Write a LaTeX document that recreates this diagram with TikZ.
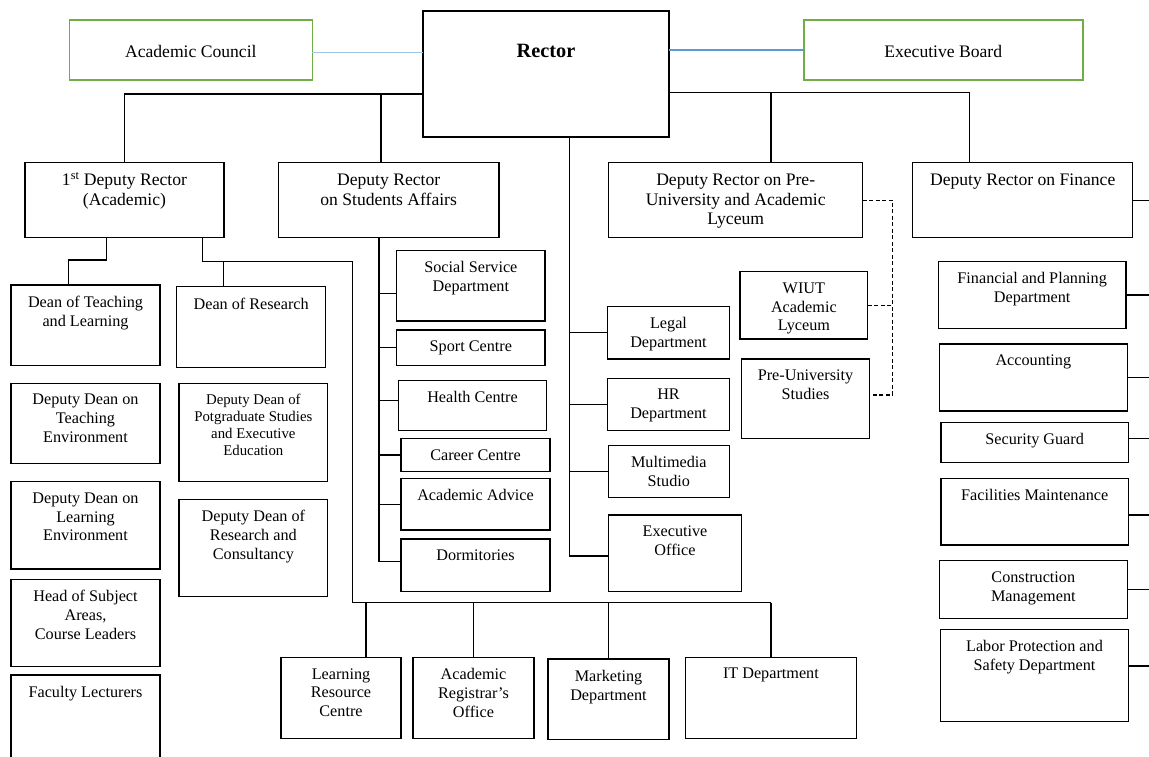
\documentclass[tikz,border=0pt]{standalone}
\usepackage{fontspec}
\setmainfont{Liberation Serif}
\definecolor{bxgreen}{RGB}{112,173,71}
\definecolor{lblue}{RGB}{160,196,228}
\definecolor{mblue}{RGB}{91,155,213}
\newlength\bpad
\setlength\bpad{11pt}
\newcommand\fa{\fontsize{16.2}{18.8}\selectfont}
\newcommand\fb{\fontsize{17.6}{19.8}\selectfont}
\newcommand\fc{\fontsize{14.8}{17}\selectfont}
\newcommand\fr{\fontsize{20.3}{24}\selectfont\bfseries}
\tikzset{
  pad/.code={\setlength\bpad{#1}},
  box/.style={draw=black, line width=1.2pt, inner sep=0pt, outer sep=0pt, anchor=north west, font=\fa, text=black},
  topbox/.style={font=\fb},
  grn/.style={draw=bxgreen, line width=1.6pt, font=\fb, pad=25.5pt},
  conn/.style={line width=1.2pt, draw=black, line join=miter},
  dsh/.style={line width=1.1pt, draw=black, dash pattern=on 4pt off 2.5pt},
}
\newcommand\bx[7][]{%
  \pgfmathsetmacro\bw{#5-#3}\pgfmathsetmacro\bh{#6-#4}%
  \node[box,#1] (#2) at (#3,#4) {\parbox[c][\bh pt][t]{\bw pt}{\centering\vspace*{\bpad}#7\par}};}
\begin{document}
\begin{tikzpicture}[x=1pt,y=-1pt]
\useasboundingbox (0,0) rectangle (1149,757);
\clip (0,0) rectangle (1149,757);
\fill[white] (0,0) rectangle (1149,757);

% top level
\bx[grn]{AC}{69.3}{20}{312.3}{80}{Academic Council}
\bx[font=\fr, pad=33.5pt]{Rector}{423}{11}{669}{137}{Rector}
\bx[grn]{EB}{803.7}{20}{1082.7}{80}{Executive Board}
\bx[topbox]{DR1}{25}{162.7}{224}{237.7}{1\smash{\textsuperscript{st}} Deputy Rector\\(Academic)}
\bx[topbox]{DRSA}{278.3}{162.7}{499}{237.7}{Deputy Rector\\on Students Affairs}
\bx[topbox]{DRPU}{608.7}{162.7}{862.7}{237.7}{Deputy Rector on Pre-\\University and Academic\\Lyceum}
\bx[topbox]{DRF}{912.7}{162.7}{1132.7}{237.7}{Deputy Rector on Finance}

% academic column
\bx{DTL}{11}{285}{160}{365.7}{Dean of Teaching\\and Learning}
\bx{DDTE}{11}{383.3}{160}{463.3}{Deputy Dean on\\Teaching\\Environment}
\bx{DDLE}{11}{481.7}{160}{569}{Deputy Dean on\\Learning\\Environment}
\bx{HSA}{11}{579.3}{160}{666.7}{Head of Subject\\Areas,\\Course Leaders}
\bx{FL}{11}{675}{160}{790}{Faculty Lecturers}
\bx{DoR}{176.7}{286.7}{325.7}{367.3}{Dean of Research}
\bx[font=\fc]{DDPG}{179}{383.3}{327.7}{481.7}{Deputy Dean of\\Potgraduate Studies\\and Executive\\Education}
\bx{DDRC}{179}{499.3}{327.7}{596.7}{Deputy Dean of\\Research and\\Consultancy}

% students column
\bx{SS}{396.7}{250.7}{545}{321}{Social Service\\Department}
\bx{SC}{396.7}{330}{545}{365.7}{Sport Centre}
\bx{HC}{398.3}{380.7}{546.7}{430.7}{Health Centre}
\bx{CC}{401}{438.7}{550}{471.3}{Career Centre}
\bx{AA}{401}{478.3}{550}{530}{Academic Advice}
\bx{DOR}{401}{539}{550}{591.7}{Dormitories}

% rector column
\bx{LEG}{607.7}{306.7}{729.3}{359}{Legal\\Department}
\bx{HR}{607.7}{378.3}{729.3}{430.7}{HR\\Department}
\bx{MM}{608.3}{445.7}{729.3}{497.3}{Multimedia\\Studio}
\bx{EO}{608.3}{515}{741.7}{591.7}{Executive\\Office}

% pre-university
\bx{WIUT}{740}{271.7}{867.7}{339}{WIUT\\Academic\\Lyceum}
\bx{PUS}{741.7}{359}{869.3}{438.3}{Pre-University\\Studies}

% finance
\bx{FP}{938.3}{261.7}{1126}{328.3}{Financial and Planning\\Department}
\bx{ACC}{939.3}{344}{1127.3}{411}{Accounting}
\bx{SG}{941}{422.7}{1128.3}{462.7}{Security Guard}
\bx{FM}{941}{478.3}{1128.3}{545}{Facilities Maintenance}
\bx{CM}{939.3}{560.7}{1127.3}{618.3}{Construction\\Management}
\bx{LP}{940.7}{629.3}{1128.3}{721.7}{Labor Protection and\\Safety Department}

% bottom row
\bx{LRC}{281}{657.3}{401}{738.3}{Learning\\Resource\\Centre}
\bx{ARO}{413}{657.3}{534}{738.3}{Academic\\Registrar’s\\Office}
\bx{MKT}{548}{659}{669}{739.3}{Marketing\\Department}
\bx{IT}{685.6}{657.3}{856.2}{738.3}{IT Department}

% blue links
\draw[line width=1.3pt, lblue] ([yshift=-2.3pt]AC.east) -- ([yshift=-2.3pt]AC.east -| Rector.west);
\draw[line width=1.3pt, mblue] (Rector.east |- EB.west) -- (EB.west);

% left bus
\coordinate (lb) at (0,94);
\draw[conn] (Rector.west |- lb) -| (DR1.north);
\coordinate (sa) at (381,94);
\draw[conn] (sa) -- (sa |- DRSA.north);

% right bus
\coordinate (rb) at (0,92.7);
\coordinate (fx) at (969.3,0);
\draw[conn] (Rector.east |- rb) -| (DRF.north -| fx);
\coordinate (px) at (771,0);
\draw[conn] (px |- rb) -- (px |- DRPU.north);

% students spine
\coordinate (sx) at (379,0);
\coordinate (ssS) at ([yshift=-7.5pt]SS.west);
\coordinate (hcS) at ([yshift=5pt]HC.west);
\coordinate (dorS) at ([yshift=3.6pt]DOR.west);
\draw[conn] (DRSA.south -| sx) -- (dorS -| sx) -- (dorS);
\draw[conn] (ssS -| sx) -- (ssS);
\draw[conn] (SC.west -| sx) -- (SC.west);
\draw[conn] (hcS -| sx) -- (hcS);
\draw[conn] (CC.west -| sx) -- (CC.west);
\draw[conn] (AA.west -| sx) -- (AA.west);

% rector spine
\coordinate (rx) at (569.7,0);
\coordinate (eoS) at ([yshift=-2.7pt]EO.west);
\draw[conn] (Rector.south -| rx) -- (eoS -| rx) -- (eoS);
\draw[conn] (LEG.west -| rx) -- (LEG.west);
\draw[conn] (HR.west -| rx) -- (HR.west);
\draw[conn] (MM.west -| rx) -- (MM.west);

% finance stubs
\coordinate (ex) at (1152,0);
\coordinate (sgS) at ([yshift=4.4pt]SG.east);
\coordinate (fmS) at ([yshift=-3.3pt]FM.east);
\coordinate (lpS) at ([yshift=9.5pt]LP.east);
\draw[conn] (DRF.east) -- (DRF.east -| ex);
\draw[conn] (FP.east) -- (FP.east -| ex);
\draw[conn] (ACC.east) -- (ACC.east -| ex);
\draw[conn] (sgS) -- (sgS -| ex);
\draw[conn] (fmS) -- (fmS -| ex);
\draw[conn] (CM.east) -- (CM.east -| ex);
\draw[conn] (lpS) -- (lpS -| ex);

% dashed pre-university links
\coordinate (dx) at (892.7,0);
\coordinate (pusS) at ([yshift=3.7pt]PUS.east);
\draw[dsh] (DRPU.east) -| (pusS -| dx) -- (pusS);
\draw[dsh] (WIUT.east) -- (WIUT.east -| dx);

% first deputy rector links
\coordinate (j1) at (106.7,260);
\coordinate (j2) at (68.3,260);
\draw[conn] (DR1.south -| j1) -- (j1) -- (j2) -- (j2 |- DTL.north);
\coordinate (k1) at (202.3,261.7);
\coordinate (k2) at (223.3,261.7);
\coordinate (k3) at (352.3,261.7);
\coordinate (k4) at (352.3,602.7);
\coordinate (k5) at (770.9,602.7);
\draw[conn] (DR1.south -| k1) -- (k1) -- (k3) -- (k4) -- (k5);
\draw[conn] (k2) -- (k2 |- DoR.north);
\coordinate (l1) at (366,0);
\draw[conn] (l1 |- k4) -- (l1 |- LRC.north);
\draw[conn] (ARO.north |- k4) -- (ARO.north);
\draw[conn] (MKT.north |- k4) -- (MKT.north);
\draw[conn] (IT.north |- k4) -- (IT.north);
\end{tikzpicture}
\end{document}
